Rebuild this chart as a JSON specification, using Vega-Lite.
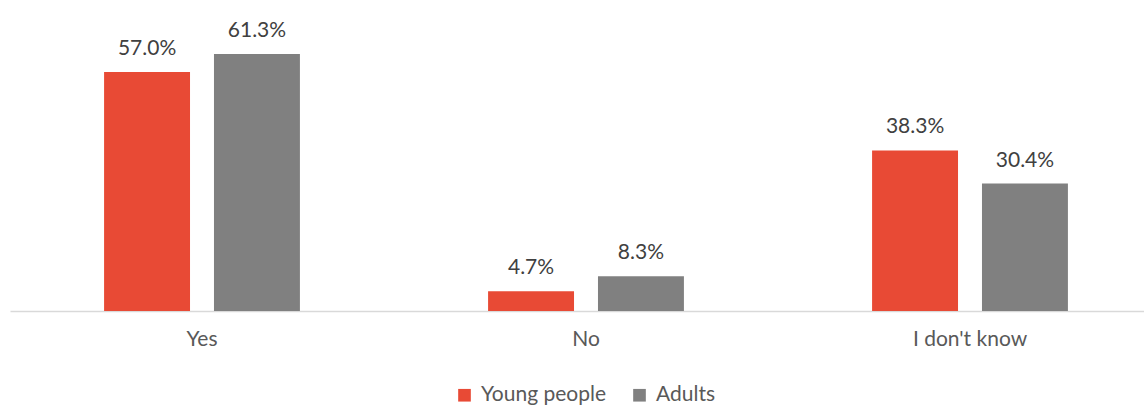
{
  "$schema": "https://vega.github.io/schema/vega-lite/v6.json",
  "width": 1152,
  "height": 293.5,
  "autosize": {"type": "none"},
  "padding": {"left": 10, "top": 17.5, "right": 0, "bottom": 95},
  "background": "white",
  "config": {"view": {"stroke": null}, "font": "Lato"},
  "data": {"values": [
    {"answer": "Yes", "group": "Young people", "value": 0.570},
    {"answer": "Yes", "group": "Adults", "value": 0.613},
    {"answer": "No", "group": "Young people", "value": 0.047},
    {"answer": "No", "group": "Adults", "value": 0.083},
    {"answer": "I don't know", "group": "Young people", "value": 0.383},
    {"answer": "I don't know", "group": "Adults", "value": 0.304}
  ]},
  "encoding": {
    "x": {"field": "answer", "type": "nominal", "sort": ["Yes", "No", "I don't know"],
      "scale": {"paddingInner": 0.49, "paddingOuter": 0.245},
      "axis": {"title": null, "labelAngle": 0, "labelFontSize": 21, "labelColor": "#595959", "labelFont": "Lato", "ticks": false, "domainColor": "#D9D9D9", "domainWidth": 1.5, "labelPadding": 17}},
    "xOffset": {"field": "group", "type": "nominal", "sort": ["Young people", "Adults"],
      "scale": {"paddingInner": 0.218, "paddingOuter": 0}},
    "y": {"field": "value", "type": "quantitative", "scale": {"domain": [0, 0.70], "nice": false}, "axis": null}
  },
  "layer": [
    {
      "mark": {"type": "bar"},
      "encoding": {
        "color": {"field": "group", "type": "nominal", "sort": ["Young people", "Adults"],
          "scale": {"domain": ["Young people", "Adults"], "range": ["#E84A35", "#808080"]},
          "legend": {"title": null, "orient": "none", "legendX": 444, "legendY": 367, "direction": "horizontal",
            "symbolType": "square", "symbolSize": 160, "symbolStrokeWidth": 0, "labelFontSize": 21, "labelColor": "#595959", "labelFont": "Lato", "columnPadding": 22, "labelOffset": 6}}
      }
    },
    {
      "mark": {"type": "text", "baseline": "alphabetic", "dy": -17, "fontSize": 21, "color": "#404040", "font": "Lato"},
      "encoding": {"text": {"field": "value", "type": "quantitative", "format": ".1%"}}
    }
  ]
}
